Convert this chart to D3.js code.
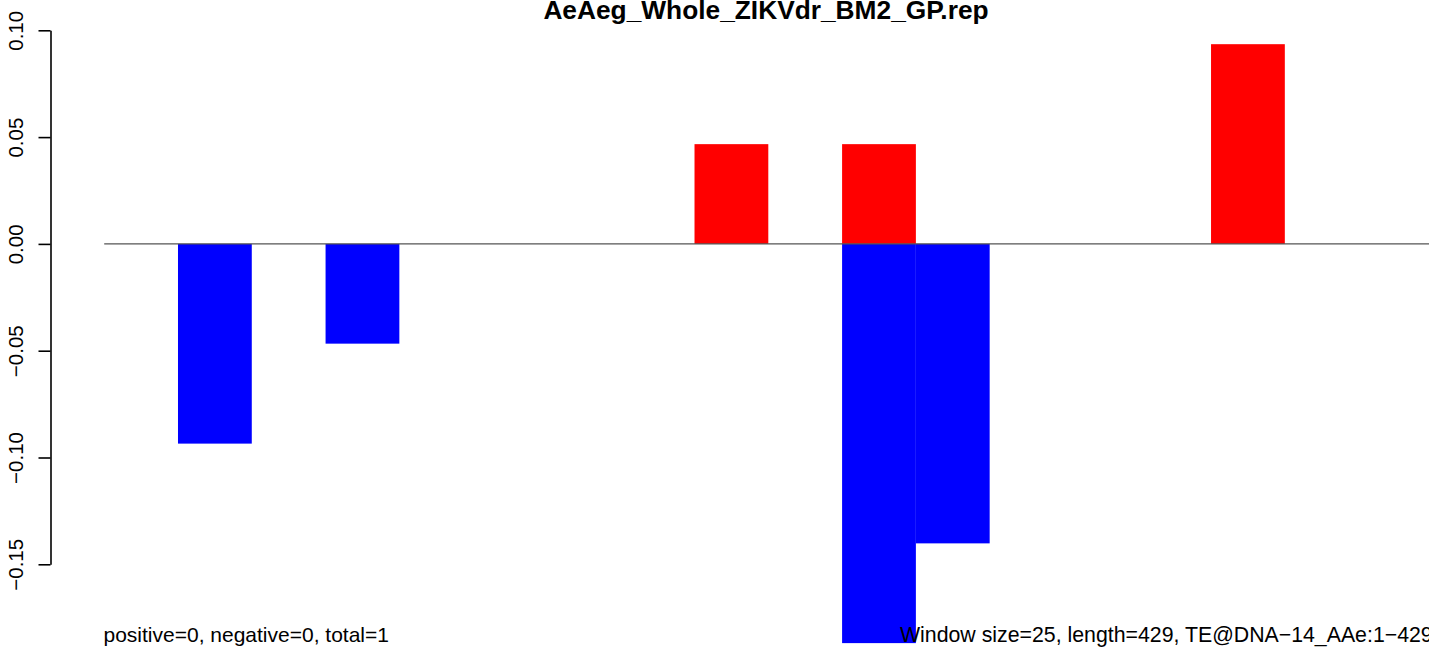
<!DOCTYPE html>
<html>
<head>
<meta charset="utf-8">
<script src="https://cdn.jsdelivr.net/npm/d3@7"></script>
<style>
  html, body { margin: 0; padding: 0; background: #fff; overflow: hidden; }
  svg { display: block; }
  text { font-family: "Liberation Sans", Arial, Helvetica, sans-serif; fill: #000; }
</style>
</head>
<body>
<svg id="chart" width="1429" height="647"></svg>
<script>
// ---- data ----
const title = "AeAeg_Whole_ZIKVdr_BM2_GP.rep";
const windows = [1, 2, 3, 4, 5, 6, 7, 8, 9, 10, 11, 12, 13, 14, 15, 16, 17, 18];
const posValues = [0, 0, 0, 0, 0, 0, 0, 0, 0.0467, 0, 0.0467, 0, 0, 0, 0, 0.0935, 0, 0];
const negValues = [0, -0.0935, 0, -0.0467, 0, 0, 0, 0, 0, 0, -0.1869, -0.1402, 0, 0, 0, 0, 0, 0];
const yTicks = [0.10, 0.05, 0.00, -0.05, -0.10, -0.15];
const yTickLabels = ["0.10", "0.05", "0.00", "\u22120.05", "\u22120.10", "\u22120.15"];
const leftNote = "positive=0, negative=0, total=1";
const rightNote = "Window size=25, length=429, TE@DNA\u221214_AAe:1\u2212429";
const posColor = "#ff0000";
const negColor = "#0000ff";

// ---- scales ----
const svg = d3.select("#chart");
const x = d3.scaleBand().domain(windows).range([104.2, 1432.4]).padding(0);
const y = d3.scaleLinear().domain([-0.15, 0.10]).range([564.3, 30.3]);

// ---- bars ----
svg.append("g").selectAll("rect.pos")
  .data(windows.map((w, i) => ({ w, v: posValues[i] })).filter(d => d.v !== 0))
  .join("rect")
  .attr("x", d => x(d.w))
  .attr("width", x.bandwidth())
  .attr("y", d => y(d.v))
  .attr("height", d => y(0) - y(d.v))
  .attr("fill", posColor);

svg.append("g").selectAll("rect.neg")
  .data(windows.map((w, i) => ({ w, v: negValues[i] })).filter(d => d.v !== 0))
  .join("rect")
  .attr("x", d => x(d.w))
  .attr("width", x.bandwidth())
  .attr("y", y(0))
  .attr("height", d => y(d.v) - y(0))
  .attr("fill", negColor);

// ---- zero line ----
svg.append("line")
  .attr("x1", x(windows[0]))
  .attr("x2", 1429)
  .attr("y1", y(0))
  .attr("y2", y(0))
  .attr("stroke", "#555")
  .attr("stroke-width", 1.1);

// ---- y axis ----
const yAxis = d3.axisLeft(y)
  .tickValues(yTicks)
  .tickSize(12)
  .tickSizeOuter(0)
  .tickFormat((d, i) => yTickLabels[i]);

const gy = svg.append("g")
  .attr("transform", "translate(50.5,0)")
  .call(yAxis);
gy.select(".domain").attr("stroke", "#000").attr("stroke-width", 1.6);
gy.selectAll(".tick line").attr("stroke", "#000").attr("stroke-width", 1.6);
gy.selectAll(".tick text")
  .attr("font-family", "'Liberation Sans', Arial, Helvetica, sans-serif")
  .attr("font-size", 20.5)
  .attr("fill", "#000")
  .attr("text-anchor", "middle")
  .attr("x", 0)
  .attr("dy", 0)
  .attr("y", -28)
  .attr("transform", "rotate(-90)");

// ---- title ----
svg.append("text")
  .attr("x", 766)
  .attr("y", 19)
  .attr("text-anchor", "middle")
  .attr("font-weight", "bold")
  .attr("font-size", 26.3)
  .text(title);

// ---- notes ----
svg.append("text")
  .attr("x", 103.5)
  .attr("y", 642)
  .attr("font-size", 21)
  .text(leftNote);

svg.append("text")
  .attr("x", 900)
  .attr("y", 642)
  .attr("font-size", 21.3)
  .text(rightNote);
</script>
</body>
</html>
